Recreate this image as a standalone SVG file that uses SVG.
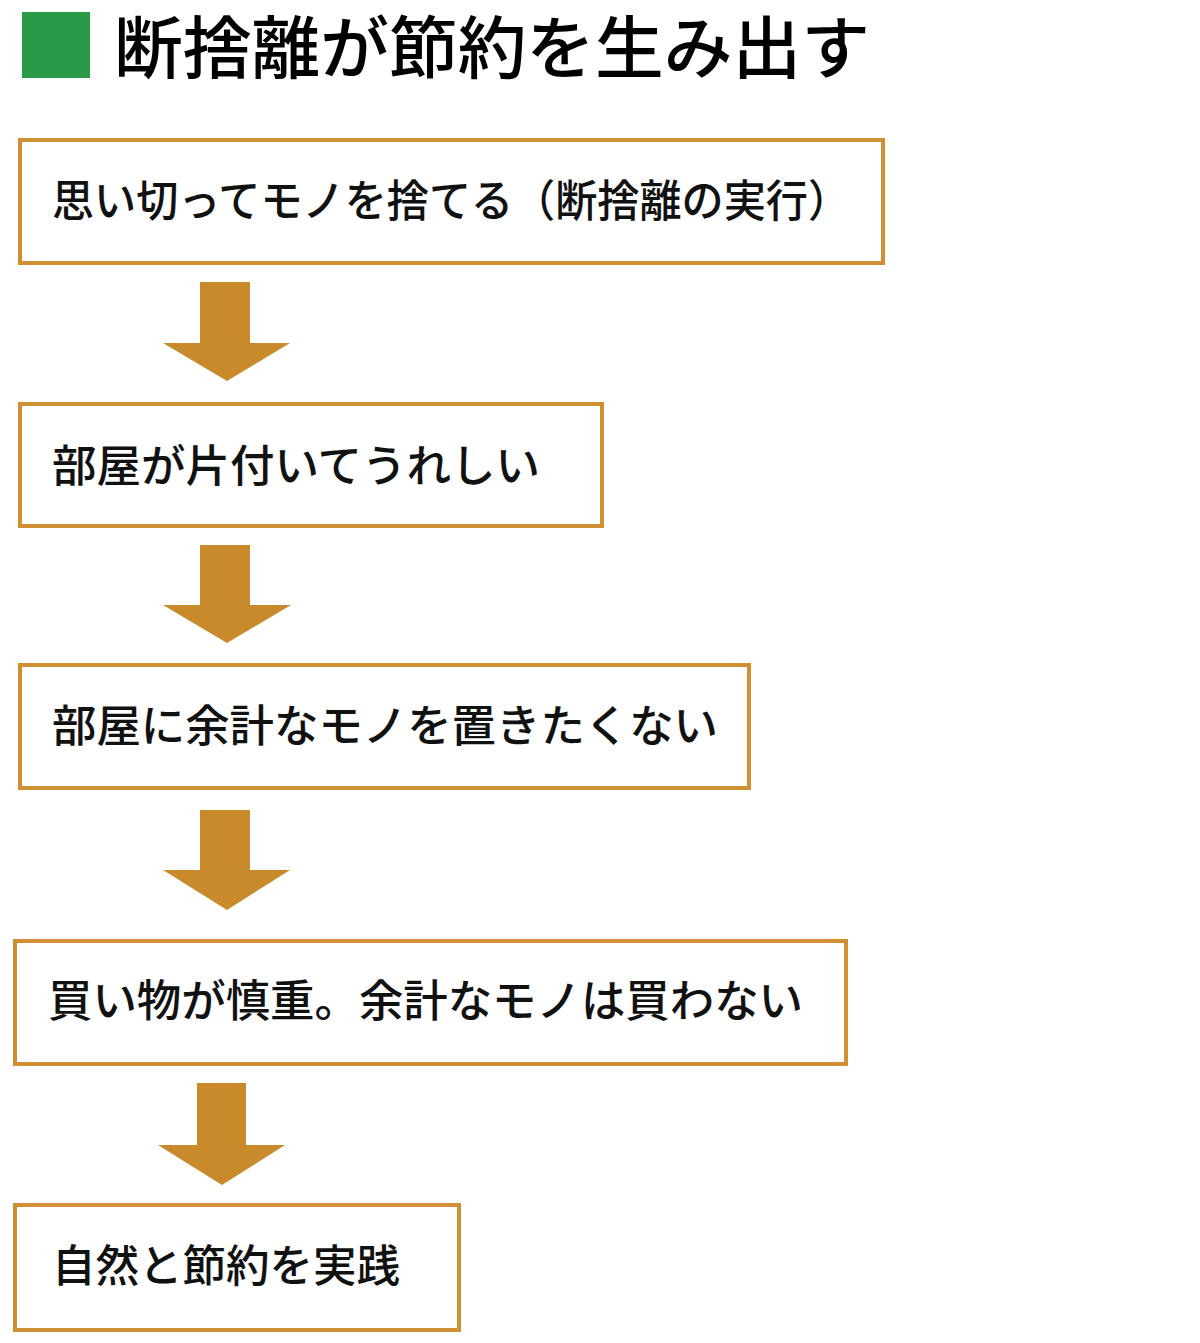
<svg xmlns="http://www.w3.org/2000/svg" width="1200" height="1343" viewBox="0 0 1200 1343">
<style>
.box{fill:#ffffff;stroke:#d18f33;stroke-width:4}
.arrow{fill:#c98a2c}
.t{font-family:"Noto Sans CJK JP","Noto Sans",sans-serif;font-size:44px;fill:#111;font-weight:500}
.title{font-family:"Noto Sans CJK JP","Noto Sans",sans-serif;font-size:68px;fill:#000;font-weight:500}
</style>
<rect width="1200" height="1343" fill="#ffffff"/>
<g id="title">
<rect x="22" y="12" width="68" height="66" fill="#2a9a48"/>
<text class="title" x="114" y="73" textLength="756" lengthAdjust="spacingAndGlyphs">断捨離が節約を生み出す</text>
</g>
<g id="connectors">
<polygon class="arrow" points="200,282 250,282 250,343 290,343 227,381 163,343 200,343"/>
<polygon class="arrow" points="200,545 250,545 250,605 291,605 227,643 163,605 200,605"/>
<polygon class="arrow" points="200,810 250,810 250,870 290,870 227,910 163,870 200,870"/>
<polygon class="arrow" points="197,1083 246,1083 246,1145 285,1145 222,1185 158,1145 197,1145"/>
</g>
<g id="node1">
<rect class="box" x="20" y="140" width="863" height="123"/>
<text class="t" x="52" y="217" textLength="798" lengthAdjust="spacingAndGlyphs">思い切ってモノを捨てる（断捨離の実行）</text>
</g>
<g id="node2">
<rect class="box" x="20" y="404" width="582" height="122"/>
<text class="t" x="52" y="482" textLength="488" lengthAdjust="spacingAndGlyphs">部屋が片付いてうれしい</text>
</g>
<g id="node3">
<rect class="box" x="20" y="665" width="729" height="123"/>
<text class="t" x="52" y="742" textLength="666" lengthAdjust="spacingAndGlyphs">部屋に余計なモノを置きたくない</text>
</g>
<g id="node4">
<rect class="box" x="15" y="941" width="831" height="123"/>
<text class="t" x="48" y="1017" textLength="755" lengthAdjust="spacingAndGlyphs">買い物が慎重。余計なモノは買わない</text>
</g>
<g id="node5">
<rect class="box" x="15" y="1205" width="444" height="125"/>
<text class="t" x="52" y="1282" textLength="348" lengthAdjust="spacingAndGlyphs">自然と節約を実践</text>
</g>
</svg>
